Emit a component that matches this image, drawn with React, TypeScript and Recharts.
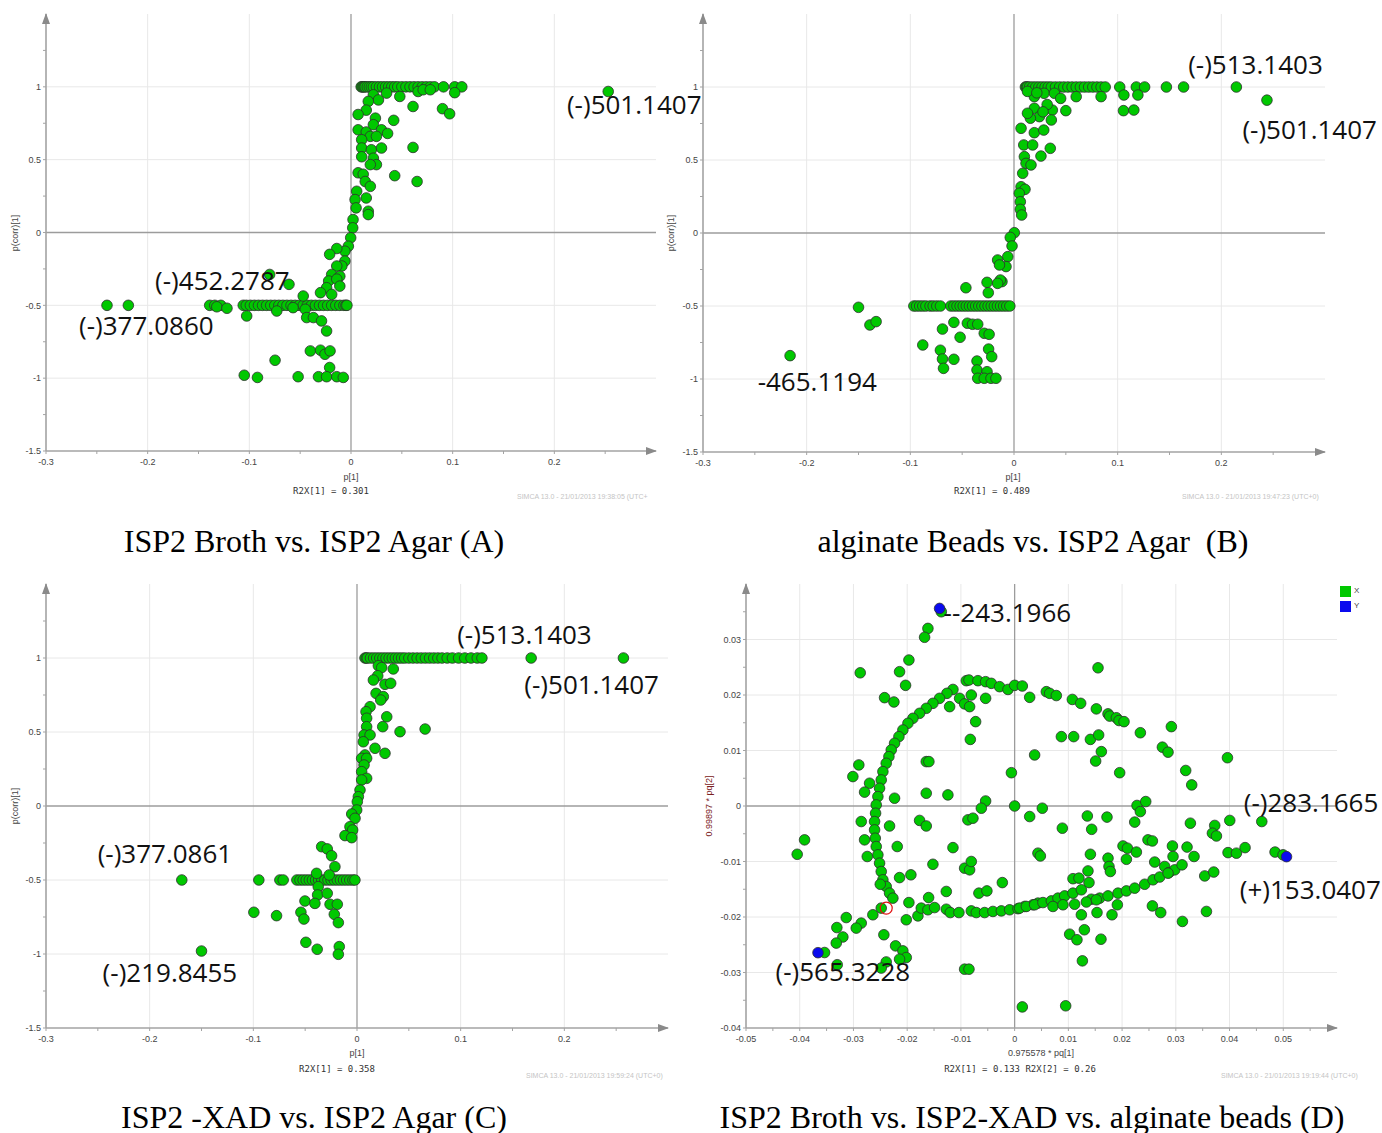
import { CartesianGrid, ReferenceDot, ReferenceLine, Scatter, ScatterChart, XAxis, YAxis } from "recharts";

// ---- panel A: ISP2 Broth vs. ISP2 Agar ----
const aTopRowX = [0.010, 0.011, 0.012, 0.013, 0.014, 0.016, 0.018, 0.020, 0.022, 0.025, 0.028, 0.031, 0.034, 0.037, 0.040, 0.043, 0.046, 0.050, 0.054, 0.058, 0.062, 0.066, 0.070, 0.074, 0.078, 0.082, 0.091, 0.102, 0.109];
const aLowRowX = [-0.240, -0.219, -0.139, -0.134, -0.128, -0.106, -0.103, -0.099, -0.095, -0.091, -0.087, -0.083, -0.079, -0.075, -0.071, -0.067, -0.063, -0.059, -0.055, -0.051, -0.047, -0.043, -0.039, -0.035, -0.031, -0.027, -0.023, -0.019, -0.015, -0.011, -0.007, -0.005, -0.004];
const aPoints: [number, number][] = [
  [0.253, 0.968], [0.102, 0.96], [0.022, 0.945], [0.027, 0.91], [0.035, 0.957], [0.048, 0.934], [0.066, 0.968], [0.071, 0.98], [0.078, 0.98],
  [0.061, 0.865], [0.090, 0.85], [0.097, 0.815], [0.042, 0.77], [0.017, 0.90], [0.015, 0.84], [0.007, 0.81], [0.024, 0.785], [0.007, 0.705],
  [0.015, 0.69], [0.022, 0.74], [0.030, 0.705], [0.036, 0.68], [0.019, 0.66], [0.025, 0.66], [0.0105, 0.637], [0.0105, 0.58], [0.020, 0.568],
  [0.030, 0.58], [0.061, 0.584], [0.0105, 0.52], [0.022, 0.51], [0.025, 0.466], [0.019, 0.466], [0.007, 0.41], [0.012, 0.40], [0.043, 0.39],
  [0.065, 0.35], [0.014, 0.35], [0.019, 0.317], [0.0056, 0.283], [0.015, 0.237], [0.004, 0.226], [0.005, 0.169], [0.017, 0.146], [0.017, 0.123],
  [0.002, 0.089], [0.0017, 0.032], [-0.0003, -0.036], [-0.0026, -0.094], [-0.006, -0.128], [-0.014, -0.11], [-0.021, -0.15], [-0.006, -0.196],
  [-0.009, -0.23], [-0.014, -0.23], [-0.019, -0.288], [-0.011, -0.30], [-0.022, -0.333], [-0.014, -0.32], [-0.024, -0.379], [-0.011, -0.368],
  [-0.019, -0.425], [-0.030, -0.413], [-0.047, -0.436], [-0.061, -0.356], [-0.080, -0.288], [-0.132, -0.51], [-0.122, -0.52],
  [-0.1026, -0.573], [-0.073, -0.539], [-0.057, -0.516], [-0.045, -0.527], [-0.0436, -0.584], [-0.037, -0.584], [-0.029, -0.607], [-0.024, -0.676],
  [-0.040, -0.813], [-0.030, -0.808], [-0.0256, -0.836], [-0.0206, -0.813], [-0.0747, -0.877], [-0.021, -0.927], [-0.105, -0.98], [-0.092, -0.995],
  [-0.052, -0.99], [-0.032, -0.99], [-0.024, -0.99], [-0.014, -0.99], [-0.0076, -0.995]
];

// ---- panel B: alginate Beads vs. ISP2 Agar ----
const bTopRowX = [0.011, 0.012, 0.013, 0.015, 0.018, 0.021, 0.024, 0.027, 0.030, 0.033, 0.036, 0.040, 0.044, 0.048, 0.052, 0.056, 0.060, 0.064, 0.068, 0.072, 0.076, 0.080, 0.084, 0.088, 0.102, 0.118, 0.126, 0.147, 0.1636, 0.2145];
const bLowRowX = [-0.0966, -0.094, -0.091, -0.088, -0.085, -0.081, -0.078, -0.0745, -0.071, -0.061, -0.058, -0.055, -0.052, -0.049, -0.046, -0.043, -0.040, -0.037, -0.034, -0.031, -0.028, -0.025, -0.022, -0.019, -0.016, -0.013, -0.010, -0.007, -0.004];
const bPoints: [number, number][] = [
  [0.244, 0.91], [0.0196, 0.934], [0.029, 0.957], [0.039, 0.957], [0.045, 0.922], [0.060, 0.934], [0.084, 0.934], [0.106, 0.945], [0.1195, 0.945],
  [0.1056, 0.838], [0.1156, 0.842], [0.050, 0.838], [0.037, 0.842], [0.0196, 0.854], [0.0245, 0.797], [0.036, 0.774], [0.0158, 0.786], [0.0068, 0.717],
  [0.0196, 0.687], [0.0287, 0.705], [0.0094, 0.603], [0.018, 0.603], [0.035, 0.58], [0.010, 0.523], [0.026, 0.527], [0.0116, 0.477], [0.0164, 0.466],
  [0.0084, 0.409], [0.0068, 0.317], [0.0106, 0.299], [0.0051, 0.272], [0.0061, 0.214], [0.0061, 0.162], [0.0074, 0.123], [0.0003, 0.002],
  [-0.0036, -0.03], [-0.0019, -0.089], [-0.006, -0.162], [-0.0077, -0.23], [-0.0116, -0.333], [-0.0158, -0.185], [-0.014, -0.219], [-0.0132, -0.322],
  [-0.0158, -0.345], [-0.026, -0.338], [-0.0248, -0.409], [-0.0464, -0.375], [0.013, 0.97], [0.022, 0.96], [0.032, 0.88], [0.028, 0.83], [0.013, 0.82],
  [-0.069, -0.658], [-0.058, -0.612], [-0.045, -0.618], [-0.040, -0.625], [-0.035, -0.625], [-0.052, -0.714], [-0.0287, -0.687], [-0.024, -0.694],
  [-0.088, -0.767], [-0.071, -0.803], [-0.069, -0.863], [-0.058, -0.865], [-0.068, -0.927], [-0.0245, -0.795], [-0.0215, -0.847], [-0.0357, -0.877],
  [-0.0357, -0.938], [-0.026, -0.95], [-0.035, -0.995], [-0.0287, -0.995], [-0.0222, -0.995], [-0.0174, -0.995],
  [-0.150, -0.509], [-0.139, -0.63], [-0.133, -0.607], [-0.216, -0.84]
];

// ---- panel C: ISP2 -XAD vs. ISP2 Agar ----
const cTopRowX = [0.0077, 0.009, 0.010, 0.013, 0.016, 0.019, 0.022, 0.025, 0.028, 0.031, 0.034, 0.037, 0.040, 0.043, 0.046, 0.050, 0.054, 0.058, 0.062, 0.066, 0.070, 0.074, 0.078, 0.082, 0.087, 0.092, 0.098, 0.104, 0.110, 0.116, 0.1205, 0.168, 0.257];
const cLowRowX = [-0.169, -0.0947, -0.0744, -0.0712, -0.058, -0.055, -0.052, -0.049, -0.046, -0.043, -0.040, -0.037, -0.034, -0.031, -0.028, -0.025, -0.022, -0.019, -0.016, -0.013, -0.010, -0.007, -0.004, -0.002];
const cPoints: [number, number][] = [
  [0.0206, 0.948], [0.0238, 0.935], [0.035, 0.926], [0.020, 0.88], [0.0158, 0.851], [0.027, 0.822], [0.0325, 0.829], [0.0184, 0.761], [0.0254, 0.739],
  [0.0229, 0.716], [0.0126, 0.671], [0.0087, 0.637], [0.0093, 0.593], [0.0287, 0.603], [0.0248, 0.536], [0.0093, 0.536], [0.0415, 0.502], [0.0657, 0.52],
  [0.0068, 0.48], [0.0126, 0.48], [0.0061, 0.434], [0.0174, 0.39], [0.027, 0.356], [0.0077, 0.345], [0.0045, 0.322], [0.0093, 0.322], [0.0068, 0.277],
  [0.0045, 0.232], [0.0093, 0.187], [0.0045, 0.176], [0.0029, 0.108], [0.0013, 0.063], [0.0003, 0.029], [-0.0003, -0.027], [-0.0051, -0.054],
  [-0.0019, -0.083], [-0.0068, -0.14], [-0.0042, -0.162], [-0.0116, -0.2], [-0.0051, -0.214], [-0.0341, -0.275], [-0.0287, -0.29], [-0.0245, -0.336],
  [-0.0213, -0.41], [-0.039, -0.455], [-0.0268, -0.466], [-0.0374, -0.545], [-0.038, -0.601], [-0.0287, -0.59], [-0.0502, -0.642], [-0.0406, -0.658],
  [-0.026, -0.664], [-0.019, -0.664], [-0.0995, -0.718], [-0.0776, -0.741], [-0.0541, -0.718], [-0.0512, -0.764], [-0.0219, -0.732], [-0.018, -0.788],
  [-0.0493, -0.921], [-0.0384, -0.968], [-0.0171, -0.95], [-0.018, -1.002], [-0.150, -0.98]
];

// ---- panel D: ISP2 Broth vs. ISP2-XAD vs. alginate beads ----
const dPointsX: [number, number][] = [
  [-0.01365, 0.0350], [-0.01614, 0.0320], [-0.01676, 0.0304], [-0.01968, 0.0263], [-0.02142, 0.0242], [-0.0203, 0.02174], [-0.02874, 0.0240],
  [-0.02421, 0.01952], [-0.02247, 0.01874], [-0.0090, 0.02258], [-0.0085, 0.0227], [-0.00683, 0.02258], [-0.0054, 0.0224], [-0.00434, 0.0221],
  [-0.0028, 0.0215], [-0.00124, 0.0210], [0.0, 0.02174], [0.00143, 0.02162], [0.0028, 0.01958], [-0.01148, 0.0210], [-0.0126, 0.0203],
  [-0.01397, 0.0194], [-0.01521, 0.0185], [-0.01645, 0.0176], [-0.01769, 0.0167], [-0.01893, 0.0158], [-0.01986, 0.0149], [-0.0208, 0.0137],
  [-0.02154, 0.0125], [-0.02235, 0.0113], [-0.02297, 0.0101], [-0.0234, 0.0089], [-0.0239, 0.0077], [-0.02452, 0.0062], [-0.02483, 0.0047],
  [-0.02514, 0.0032], [-0.02545, 0.0017], [-0.02576, 0.0002], [-0.02588, -0.0013], [-0.02607, -0.0028], [-0.02607, -0.0043], [-0.02594, -0.0058],
  [-0.02576, -0.0073], [-0.02545, -0.0088], [-0.02514, -0.0103], [-0.02483, -0.0118], [-0.02452, -0.0133], [-0.0239, -0.0145], [-0.02328, -0.0157],
  [-0.02266, -0.0166], [-0.01024, 0.0194], [-0.00931, 0.0184], [-0.00838, 0.0179], [-0.00807, 0.0200], [-0.0121, 0.0179], [-0.0054, 0.0194],
  [-0.00726, 0.0152], [-0.00825, 0.0120], [-0.01645, 0.0080], [-0.01596, 0.0080], [-0.0006, 0.0060], [0.00372, 0.0092], [-0.01645, 0.0023],
  [-0.01242, 0.0020], [-0.02235, 0.0014], [-0.0054, 0.0009], [-0.0062, -0.0004], [0.0, 0.0], [0.0028, -0.0019], [-0.0087, -0.0025],
  [-0.00776, -0.0022], [-0.01769, -0.0026], [-0.01645, -0.0036], [-0.02328, -0.0036], [-0.02855, -0.0028], [-0.02793, -0.0061], [-0.02185, -0.0073],
  [-0.01148, -0.0075], [-0.00931, -0.0112], [-0.00838, -0.0115], [-0.00807, -0.0100], [-0.01521, -0.0105], [-0.02743, -0.0091], [-0.01931, -0.0124],
  [-0.02142, -0.0129], [-0.02501, -0.0141], [-0.01272, -0.0154], [-0.00665, -0.0157], [-0.00516, -0.0153], [-0.00229, -0.0138], [-0.01601, -0.0165],
  [-0.01968, -0.0174], [-0.02017, -0.0205], [-0.018, -0.0198], [-0.029, 0.0074], [-0.03011, 0.0053], [-0.027, 0.0041], [-0.02793, 0.0025],
  [-0.0391, -0.0061], [-0.04047, -0.0087], [-0.02483, -0.0184], [-0.02639, -0.0196], [-0.02855, -0.0211], [-0.02948, -0.0220], [-0.03134, -0.0201],
  [-0.03309, -0.0219], [-0.03197, -0.0236], [-0.0332, -0.0247], [-0.03538, -0.0264], [-0.02434, -0.0232], [-0.02216, -0.0252], [-0.0208, -0.0261],
  [-0.02017, -0.0273], [-0.02142, -0.0276], [-0.0239, -0.0281], [-0.02483, -0.0292], [-0.03302, -0.0286], [-0.00931, -0.0294], [-0.0085, -0.0294],
  [0.00143, -0.0362], [-0.01738, -0.0184], [-0.01614, -0.0187], [-0.0149, -0.0183], [-0.01272, -0.0186], [-0.01198, -0.0192], [-0.01037, -0.0192],
  [-0.00807, -0.0189], [-0.00714, -0.0192], [-0.00559, -0.0192], [-0.00404, -0.0190], [-0.00248, -0.0189], [-0.00093, -0.0187], [0.00062, -0.0185],
  [0.00186, -0.0181], [0.00341, -0.0178], [0.00434, -0.0175], [0.01552, 0.0249], [0.0059, 0.0206], [0.00652, 0.0203], [0.00776, 0.0199],
  [0.01074, 0.0192], [0.01229, 0.0185], [0.01521, 0.0175], [0.01738, 0.0166], [0.01769, 0.0162], [0.01893, 0.0159], [0.01943, 0.0154],
  [0.02036, 0.0152], [0.0234, 0.0132], [0.02917, 0.0143], [0.0275, 0.0106], [0.02855, 0.0097], [0.0087, 0.0125], [0.01099, 0.0125],
  [0.0141, 0.0120], [0.01564, 0.0128], [0.01614, 0.0098], [0.01508, 0.0081], [0.01955, 0.0060], [0.03184, 0.0064], [0.03296, 0.0038],
  [0.03961, 0.0087], [0.02278, 0.0001], [0.0244, 0.0008], [0.0234, -0.0010], [0.00515, -0.0004], [0.01353, -0.0018], [0.01719, -0.0020],
  [0.00888, -0.0040], [0.01434, -0.0042], [0.02235, -0.0029], [0.03271, -0.0031], [0.03724, -0.0035], [0.03681, -0.0049], [0.03756, -0.0054],
  [0.04004, -0.0026], [0.046, -0.0028], [0.00434, -0.0085], [0.00479, -0.0090], [0.0141, -0.0087], [0.02017, -0.0072], [0.02099, -0.0076],
  [0.02266, -0.0083], [0.02482, -0.0061], [0.02564, -0.0063], [0.02937, -0.0072], [0.03209, -0.0074], [0.03339, -0.0091], [0.02948, -0.0091],
  [0.0208, -0.0096], [0.01738, -0.0094], [0.01756, -0.0109], [0.01782, -0.0118], [0.02607, -0.0101], [0.02793, -0.0109], [0.02873, -0.0120],
  [0.0298, -0.0115], [0.03116, -0.0106], [0.03972, -0.0084], [0.04128, -0.0085], [0.04289, -0.0075], [0.04847, -0.0083], [0.04996, -0.0088],
  [0.03538, -0.0126], [0.03706, -0.0119], [0.01365, -0.0117], [0.01384, -0.0138], [0.01086, -0.0131], [0.01197, -0.0130], [0.00093, -0.0184],
  [0.00218, -0.0181], [0.00372, -0.0178], [0.00527, -0.0174], [0.00683, -0.0171], [0.00806, -0.0166], [0.00931, -0.0162], [0.01086, -0.0157],
  [0.01242, -0.0151], [0.01428, -0.0168], [0.01583, -0.0166], [0.01738, -0.0162], [0.01924, -0.0157], [0.0208, -0.0153], [0.02235, -0.0148],
  [0.02421, -0.0141], [0.02576, -0.0133], [0.027, -0.0128], [0.02855, -0.0121], [0.00713, -0.0181], [0.009, -0.0178], [0.01117, -0.0177],
  [0.01335, -0.0173], [0.01521, -0.0169], [0.01242, -0.0196], [0.01533, -0.0192], [0.01812, -0.0196], [0.02564, -0.0180], [0.02719, -0.0192],
  [0.03123, -0.0208], [0.0357, -0.0190], [0.01912, -0.0178], [0.01024, -0.0231], [0.0116, -0.0241], [0.01298, -0.0223], [0.01607, -0.0240],
  [0.01261, -0.0279], [0.0095, -0.0360]
];
const dPointsY: [number, number][] = [[-0.01397, 0.0356], [-0.0366, -0.02643], [0.0506, -0.00913]];
const dPointsRed: [number, number][] = [[-0.0239, -0.0184]];

// ---- axes ----
const abXTicks = [-0.3, -0.25, -0.2, -0.15, -0.1, -0.05, 0, 0.05, 0.1, 0.15, 0.2, 0.25];
const abXLabels = [-0.3, -0.2, -0.1, 0, 0.1, 0.2];
const abYTicks = [-1.5, -1.25, -1, -0.75, -0.5, -0.25, 0, 0.25, 0.5, 0.75, 1, 1.25];
const abYLabels = [-1.5, -1, -0.5, 0, 0.5, 1];
const dXTicks = [-0.05, -0.045, -0.04, -0.035, -0.03, -0.025, -0.02, -0.015, -0.01, -0.005, 0, 0.005, 0.01, 0.015, 0.02, 0.025, 0.03, 0.035, 0.04, 0.045, 0.05, 0.055];
const dXLabels = [-0.05, -0.04, -0.03, -0.02, -0.01, 0, 0.01, 0.02, 0.03, 0.04, 0.05];
const dYTicks = [-0.04, -0.035, -0.03, -0.025, -0.02, -0.015, -0.01, -0.005, 0, 0.005, 0.01, 0.015, 0.02, 0.025, 0.03, 0.035];
const dYLabels = [-0.04, -0.03, -0.02, -0.01, 0, 0.01, 0.02, 0.03];

type Pt = { x: number; y: number };
type Note = { text: string; x: number; y: number };

const notesA: Note[] = [
  { text: "(-)501.1407", x: 0.2124, y: 0.884 },
  { text: "(-)452.2787", x: -0.1927, y: -0.329 },
  { text: "(-)377.0860", x: -0.2675, y: -0.637 }
];
const notesB: Note[] = [
  { text: "(-)513.1403", x: 0.168, y: 1.158 },
  { text: "(-)501.1407", x: 0.2203, y: 0.712 },
  { text: "-465.1194", x: -0.2473, y: -1.014 }
];
const notesC: Note[] = [
  { text: "(-)513.1403", x: 0.0966, y: 1.162 },
  { text: "(-)501.1407", x: 0.1614, y: 0.824 },
  { text: "(-)377.0861", x: -0.2502, y: -0.318 },
  { text: "(-)219.8455", x: -0.2454, y: -1.122 }
];
const notesD: Note[] = [
  { text: "--243.1966", x: -0.01322, y: 0.03495 },
  { text: "(-)283.1665", x: 0.04264, y: 0.00072 },
  { text: "(+)153.0407", x: 0.0419, y: -0.01495 },
  { text: "(-)565.3228", x: -0.0445, y: -0.02973 }
];

const pairs = (list: [number, number][]): Pt[] => list.map(([x, y]) => ({ x, y }));
const row = (xs: number[], y: number): Pt[] => xs.map((x) => ({ x, y }));

const GREEN = "#00c800";
const tickStyle = { fill: "#444", fontSize: 9, fontFamily: "Liberation Sans, Arial, sans-serif" };
const axisStroke = { stroke: "#a3a3a3", strokeWidth: 1.6 };

function Dot(props: any) {
  return <circle cx={props.cx} cy={props.cy} r={5.3} fill={props.fill} stroke="#2e2e2e" strokeWidth={0.8} />;
}

function RedRing(props: any) {
  return <circle cx={props.cx} cy={props.cy} r={6} fill="none" stroke="#e01010" strokeWidth={1.2} />;
}

type PanelProps = {
  plotLeft: number;
  plotTop: number;
  plotW: number;
  plotH: number;
  xDomain: [number, number];
  yDomain: [number, number];
  xTicks: number[];
  xLabels: number[];
  yTicks: number[];
  yLabels: number[];
  green: Pt[];
  blue?: Pt[];
  red?: Pt[];
  notes: Note[];
};

function Panel(p: PanelProps) {
  const right = 60;
  const xGrid = p.xLabels.filter((v) => v !== 0 && v !== p.xDomain[0]);
  const yGrid = p.yLabels.filter((v) => v !== 0 && v !== p.yDomain[0]);
  return (
    <div style={{ position: "absolute", left: p.plotLeft - 45, top: p.plotTop - 10 }}>
      <ScatterChart width={p.plotW + 45 + right} height={p.plotH + 50} margin={{ top: 10, right, bottom: 0, left: 5 }}>
        <CartesianGrid horizontalValues={yGrid} verticalValues={xGrid} stroke="#e8e8e8" />
        <XAxis
          type="number"
          dataKey="x"
          domain={p.xDomain}
          ticks={p.xTicks}
          interval={0}
          allowDataOverflow
          height={40}
          tickSize={3}
          tickMargin={5}
          tick={tickStyle}
          axisLine={axisStroke}
          tickLine={{ stroke: "#a3a3a3" }}
          tickFormatter={(v: number) => (p.xLabels.includes(v) ? String(v) : "")}
        />
        <YAxis
          type="number"
          dataKey="y"
          domain={p.yDomain}
          ticks={p.yTicks}
          interval={0}
          allowDataOverflow
          width={40}
          tickSize={3}
          tick={tickStyle}
          axisLine={axisStroke}
          tickLine={{ stroke: "#a3a3a3" }}
          tickFormatter={(v: number) => (p.yLabels.includes(v) ? String(v) : "")}
        />
        <ReferenceLine x={0} stroke="#9c9c9c" strokeWidth={1.3} />
        <ReferenceLine y={0} stroke="#9c9c9c" strokeWidth={1.3} />
        <Scatter data={p.green} fill={GREEN} shape={Dot} isAnimationActive={false} />
        {p.blue && <Scatter data={p.blue} fill="#0a0aee" shape={Dot} isAnimationActive={false} />}
        {p.red && <Scatter data={p.red} fill="none" shape={RedRing} isAnimationActive={false} />}
        <ReferenceDot
          x={p.xDomain[1]}
          y={p.yDomain[0]}
          ifOverflow="visible"
          shape={(s: any) => <polygon points={`${s.cx + 1},${s.cy} ${s.cx - 10},${s.cy - 4} ${s.cx - 10},${s.cy + 4}`} fill="#8a8a8a" />}
        />
        <ReferenceDot
          x={p.xDomain[0]}
          y={p.yDomain[1]}
          ifOverflow="visible"
          shape={(s: any) => <polygon points={`${s.cx},${s.cy - 1} ${s.cx - 4},${s.cy + 10} ${s.cx + 4},${s.cy + 10}`} fill="#8a8a8a" />}
        />
        {p.notes.map((n) => (
          <ReferenceDot
            key={n.text}
            x={n.x}
            y={n.y}
            ifOverflow="visible"
            shape={(s: any) => (
              <text x={s.cx} y={s.cy} dominantBaseline="central" fontSize={26} fontFamily="Open Sans, Noto Sans, sans-serif" fill="#111">
                {n.text}
              </text>
            )}
          />
        ))}
      </ScatterChart>
    </div>
  );
}

const small = { position: "absolute" as const, fontFamily: "Liberation Sans, Arial, sans-serif", fontSize: 9, color: "#444", whiteSpace: "nowrap" as const };
const mono = { ...small, fontFamily: "DejaVu Sans Mono, monospace", fontSize: 9, color: "#333" };
const stamp = { ...small, fontSize: 7, color: "#c4c4c4" };
const caption = { position: "absolute" as const, fontFamily: "Liberation Serif, Times New Roman, serif", fontSize: 32, color: "#000", whiteSpace: "nowrap" as const, transform: "translate(-50%, -50%)" };

function Centered({ x, y, style, children }: any) {
  return <div style={{ ...style, left: x, top: y, transform: "translate(-50%, -50%)" }}>{children}</div>;
}

function Rotated({ x, y, style, children }: any) {
  return <div style={{ ...style, left: x, top: y, transform: "translate(-50%, -50%) rotate(-90deg)" }}>{children}</div>;
}

export default function App() {
  return (
    <div style={{ position: "absolute", left: 0, top: 0, width: 1382, height: 1133, background: "#fff", overflow: "hidden" }}>
      <Panel plotLeft={46} plotTop={14} plotW={610} plotH={437} xDomain={[-0.3, 0.3]} yDomain={[-1.5, 1.5]}
        xTicks={abXTicks} xLabels={abXLabels} yTicks={abYTicks} yLabels={abYLabels}
        green={[...row(aTopRowX, 1), ...row(aLowRowX, -0.5), ...pairs(aPoints)]} notes={notesA} />
      <Panel plotLeft={703} plotTop={14} plotW={622} plotH={438} xDomain={[-0.3, 0.3]} yDomain={[-1.5, 1.5]}
        xTicks={abXTicks} xLabels={abXLabels} yTicks={abYTicks} yLabels={abYLabels}
        green={[...row(bTopRowX, 1), ...row(bLowRowX, -0.5), ...pairs(bPoints)]} notes={notesB} />
      <Panel plotLeft={46} plotTop={584} plotW={622} plotH={444} xDomain={[-0.3, 0.3]} yDomain={[-1.5, 1.5]}
        xTicks={abXTicks} xLabels={abXLabels} yTicks={abYTicks} yLabels={abYLabels}
        green={[...row(cTopRowX, 1), ...row(cLowRowX, -0.5), ...pairs(cPoints)]} notes={notesC} />
      <Panel plotLeft={746} plotTop={584} plotW={591} plotH={444} xDomain={[-0.05, 0.06]} yDomain={[-0.04, 0.04]}
        xTicks={dXTicks} xLabels={dXLabels} yTicks={dYTicks} yLabels={dYLabels}
        green={pairs(dPointsX)} blue={pairs(dPointsY)} red={pairs(dPointsRed)} notes={notesD} />

      {/* axis titles and footers */}
      <Rotated x={15} y={233} style={small}>p(corr)[1]</Rotated>
      <Centered x={351} y={477} style={small}>p[1]</Centered>
      <Centered x={331} y={491} style={mono}>R2X[1] = 0.301</Centered>
      <div style={{ ...stamp, left: 517, top: 493 }}>SIMCA 13.0 - 21/01/2013 19:38:05 (UTC+</div>

      <Rotated x={671} y={233} style={small}>p(corr)[1]</Rotated>
      <Centered x={1013} y={477} style={small}>p[1]</Centered>
      <Centered x={992} y={491} style={mono}>R2X[1] = 0.489</Centered>
      <div style={{ ...stamp, left: 1182, top: 493 }}>SIMCA 13.0 - 21/01/2013 19:47:23 (UTC+0)</div>

      <Rotated x={15} y={806} style={small}>p(corr)[1]</Rotated>
      <Centered x={357} y={1053} style={small}>p[1]</Centered>
      <Centered x={337} y={1069} style={mono}>R2X[1] = 0.358</Centered>
      <div style={{ ...stamp, left: 526, top: 1072 }}>SIMCA 13.0 - 21/01/2013 19:59:24 (UTC+0)</div>

      <Rotated x={709} y={806} style={{ ...small, color: "#7a2020" }}>0.99897 * pq[2]</Rotated>
      <Centered x={1041} y={1053} style={small}>0.975578 * pq[1]</Centered>
      <Centered x={1020} y={1069} style={mono}>R2X[1] = 0.133 R2X[2] = 0.26</Centered>
      <div style={{ ...stamp, left: 1221, top: 1072 }}>SIMCA 13.0 - 21/01/2013 19:19:44 (UTC+0)</div>

      {/* legend of panel D */}
      <div style={{ position: "absolute", left: 1340, top: 586, width: 11, height: 11, background: GREEN }} />
      <div style={{ ...small, left: 1354, top: 586, fontSize: 8 }}>X</div>
      <div style={{ position: "absolute", left: 1340, top: 601, width: 11, height: 11, background: "#0a0aee" }} />
      <div style={{ ...small, left: 1354, top: 601, fontSize: 8 }}>Y</div>

      {/* captions */}
      <div style={{ ...caption, left: 314, top: 541 }}>ISP2 Broth vs. ISP2 Agar (A)</div>
      <div style={{ ...caption, left: 1033, top: 541 }}>alginate Beads vs. ISP2 Agar&nbsp; (B)</div>
      <div style={{ ...caption, left: 314, top: 1117 }}>ISP2 -XAD vs. ISP2 Agar (C)</div>
      <div style={{ ...caption, left: 1032, top: 1117 }}>ISP2 Broth vs. ISP2-XAD vs. alginate beads (D)</div>
    </div>
  );
}
